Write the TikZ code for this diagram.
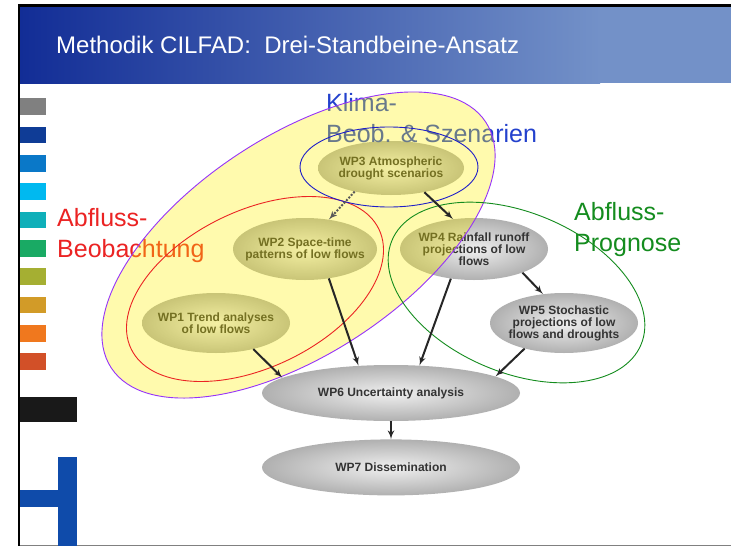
\documentclass[tikz,border=0pt]{standalone}
\usepackage{fontspec}
\setmainfont{Liberation Sans}
\usetikzlibrary{arrows,positioning,shapes.geometric}
\definecolor{hdleft}{RGB}{18,45,150}
\definecolor{hdright}{RGB}{115,145,200}
\definecolor{klimablue}{RGB}{35,65,205}
\definecolor{abred}{RGB}{235,35,35}
\definecolor{abgreen}{RGB}{20,140,30}
\definecolor{bobline}{RGB}{150,50,250}
\definecolor{wp3line}{RGB}{30,30,200}
\definecolor{hblue}{RGB}{15,75,170}
\definecolor{bar1}{RGB}{15,60,150}
\definecolor{bar2}{RGB}{10,120,200}
\definecolor{bar3}{RGB}{0,185,240}
\definecolor{bar4}{RGB}{15,175,185}
\definecolor{bar5}{RGB}{25,170,100}
\definecolor{bar6}{RGB}{165,175,50}
\definecolor{bar7}{RGB}{210,155,40}
\definecolor{bar8}{RGB}{240,120,30}
\definecolor{bar9}{RGB}{210,80,40}

\begin{document}
\begin{tikzpicture}
[x=1pt, y=-1pt, >=latex',
wp/.style = 
{shape=ellipse, align=center, inner xsep=-10pt, inner ysep=-2pt,
inner color=gray!12, outer color=gray!62, text=black!80,
font=\fontsize{12}{12}\selectfont\bfseries},
flow/.style = {draw=black!85, ->, line width=2pt},
big/.style = {anchor=base west, align=left, inner sep=0pt,
font=\fontsize{25}{31}\selectfont}]
\useasboundingbox (0,0) rectangle (731,546);
\fill[white] (0,0) rectangle (731,546);

% frame and header
\shade[left color=hdleft, right color=hdright] (20,7) rectangle (600,83);
\fill[hdright] (599,7) rectangle (731,83);
\fill[black] (17.5,4) rectangle (731,7);
\fill[black] (17.5,4) rectangle (20,546);
\fill[gray] (20,544.5) rectangle (731,546);
\node[anchor=base west, inner sep=0pt, text=white, font=\fontsize{24}{28}\selectfont]
(title) at (56,53) {Methodik CILFAD:\ \ Drei-Standbeine-Ansatz};

% colour bars
\fill[black!50] (20,98) rectangle (46,115);
\fill[bar1] (20,127) rectangle (46,143);
\fill[bar2] (20,155) rectangle (46,172);
\fill[bar3] (20,183) rectangle (46,200);
\fill[bar4] (20,212) rectangle (46,228);
\fill[bar5] (20,240) rectangle (46,257);
\fill[bar6] (20,268) rectangle (46,285);
\fill[bar7] (20,297) rectangle (46,313);
\fill[bar8] (20,325) rectangle (46,342);
\fill[bar9] (20,353) rectangle (46,370);
\fill[black!90] (20,397) rectangle (77,422);
\fill[hblue] (58,457) rectangle (77,546);
\fill[hblue] (20,490) rectangle (58,507);

% work packages
\node [wp, minimum width=146pt, minimum height=54pt] (wp3) at (391,168) {WP3 Atmospheric\\drought scenarios};
\node [wp, minimum width=144pt, minimum height=62pt] (wp2) at (305,249) {WP2 Space-time\\patterns of low flows};
\node [wp, minimum width=148pt, minimum height=60pt] (wp1) at (216,323) {WP1 Trend analyses\\of low flows};
\node [wp, minimum width=148pt, minimum height=62pt] (wp4) at (474,249) {WP4 Rainfall runoff\\projections of low\\flows};
\node [wp, minimum width=148pt, minimum height=60pt] (wp5) at (564,323) {WP5 Stochastic\\projections of low\\flows and droughts};
\node [wp, minimum width=258pt, minimum height=56pt] (wp6) at (391,393) {WP6 Uncertainty analysis};
\node [wp, minimum width=258pt, minimum height=56pt, below=18pt of wp6] (wp7) {WP7 Dissemination};

% labels
\node [big, text=klimablue] (klima) at (326,142) {Klima-\\Beob. \& Szenarien};
\node [big, text=abred] (beob) at (57,257) {Abfluss-\\Beobachtung};
\node [big, text=abgreen] (prog) at (574,251) {Abfluss-\\Prognose};

% groups
\draw[bobline, line width=0.9pt, fill=yellow, fill opacity=0.32, rotate around={33.3:(298.5,245)}]
(298.5,245) ellipse [x radius=224, y radius=109];
\draw[abred, line width=0.9pt, rotate around={25.8:(255,289)}]
(255,289) ellipse [x radius=137.6, y radius=78.3];
\draw[wp3line, line width=0.9pt] (389,167) ellipse [x radius=89, y radius=40];
\draw[abgreen, line width=0.9pt, rotate around={-22.7:(516.5,292.5)}]
(516.5,292.5) ellipse [x radius=135, y radius=80];

\path (wp3.213) edge[flow, draw=black!65, dash pattern=on 2pt off 1.5pt] (wp2.51);
\path[every edge/.style={flow}]
(wp3.324)edge(wp4.125)
(wp4.334)edge(wp5.126)
(wp4.232)edge(wp6.44)
(wp5.213)edge(wp6.9)
(wp1.325)edge(wp6.172)
(wp2.309)edge(wp6.140)
(wp6)edge(wp7)
;

\end{tikzpicture}
\end{document}
